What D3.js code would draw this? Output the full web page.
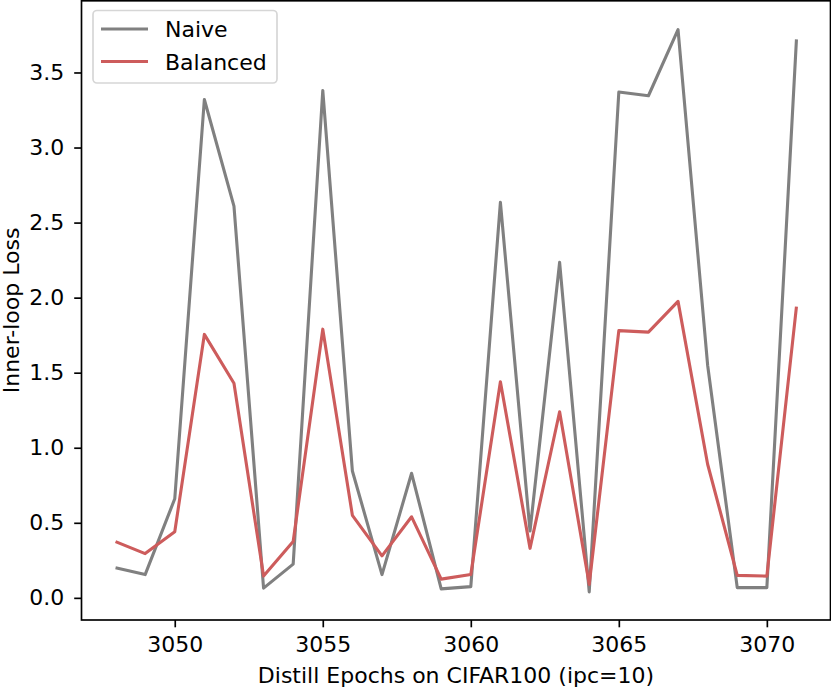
<!DOCTYPE html>
<html lang="en">

<head>
  <meta charset="UTF-8">
  <title>Inner-loop Loss</title>
  <style>
    body { margin: 0; background: #fff; }
    svg { display: block; font-family: "DejaVu Sans", sans-serif; }
  </style>
</head>

<body>
  <svg></svg>
  <script src="https://cdn.jsdelivr.net/npm/d3@7"></script>
  <script>
    // epochs 3048 .. 3071
    var epochs = [3048, 3049, 3050, 3051, 3052, 3053, 3054, 3055, 3056, 3057, 3058, 3059,
      3060, 3061, 3062, 3063, 3064, 3065, 3066, 3067, 3068, 3069, 3070, 3071];
    var naive = [0.20, 0.155, 0.66, 3.32, 2.61, 0.065, 0.225, 3.38, 0.845, 0.155, 0.83, 0.06,
      0.075, 2.635, 0.445, 2.235, 0.04, 3.37, 3.345, 3.785, 1.55, 0.068, 0.068, 3.72];
    var balanced = [0.375, 0.295, 0.44, 1.755, 1.43, 0.145, 0.375, 1.79, 0.55, 0.28, 0.54, 0.125,
      0.155, 1.44, 0.33, 1.24, 0.09, 1.78, 1.77, 1.975, 0.89, 0.15, 0.145, 1.94];
    var xTicks = [3050, 3055, 3060, 3065, 3070];
    var yTicks = [0.0, 0.5, 1.0, 1.5, 2.0, 2.5, 3.0, 3.5];
    var seriesNames = ["Naive", "Balanced"];
    var seriesColors = ["#808080", "#cd5c5c"];

    var width = 831, height = 688;
    var plotL = 81.5, plotR = 830.5, plotT = 0.8, plotB = 620;
    var fontSize = "22px";

    var svg = d3.select("svg")
      .attr("width", width)
      .attr("height", height);

    var x = d3.scaleLinear()
      .domain([3046.85, 3072.15])
      .range([plotL, plotR]);
    var y = d3.scaleLinear()
      .domain([-0.1475, 3.9775])
      .range([plotB, plotT]);

    // 折线
    var line = d3.line()
      .x(function (d, i) { return x(epochs[i]); })
      .y(function (d) { return y(d); });

    [naive, balanced].forEach(function (s, k) {
      svg.append("path")
        .datum(s)
        .attr("fill", "none")
        .attr("stroke", seriesColors[k])
        .attr("stroke-width", 3.1)
        .attr("stroke-linejoin", "round")
        .attr("stroke-linecap", "butt")
        .attr("d", line);
    });

    // 坐标轴
    var xAxis = svg.append("g")
      .attr("transform", `translate(0, ${plotB})`)
      .call(d3.axisBottom(x).tickValues(xTicks).tickFormat(d3.format("d"))
        .tickSize(7.3).tickPadding(9).tickSizeOuter(0));
    var yAxis = svg.append("g")
      .attr("transform", `translate(${plotL}, 0)`)
      .call(d3.axisLeft(y).tickValues(yTicks).tickFormat(d3.format(".1f"))
        .tickSize(7.3).tickPadding(10).tickSizeOuter(0));

    [xAxis, yAxis].forEach(function (g) {
      g.select(".domain").remove();
      g.selectAll(".tick line").attr("stroke", "#000").attr("stroke-width", 1.67);
      g.selectAll(".tick text").attr("fill", "#000").attr("font-size", fontSize)
        .attr("font-family", "DejaVu Sans");
    });

    // 边框
    svg.append("rect")
      .attr("x", plotL)
      .attr("y", plotT)
      .attr("width", plotR - plotL)
      .attr("height", plotB - plotT)
      .attr("fill", "none")
      .attr("stroke", "#000")
      .attr("stroke-width", 1.67);

    // 轴标题
    svg.append("text")
      .attr("x", (plotL + plotR) / 2)
      .attr("y", 683)
      .attr("text-anchor", "middle")
      .attr("font-size", fontSize)
      .text("Distill Epochs on CIFAR100 (ipc=10)");
    svg.append("text")
      .attr("transform", `translate(19, ${(plotT + plotB) / 2}) rotate(-90)`)
      .attr("text-anchor", "middle")
      .attr("font-size", fontSize)
      .text("Inner-loop Loss");

    // 图例
    var legend = svg.append("g").attr("transform", "translate(93, 10.5)");
    legend.append("rect")
      .attr("width", 184)
      .attr("height", 72.5)
      .attr("rx", 4)
      .attr("fill", "#fff")
      .attr("fill-opacity", 0.8)
      .attr("stroke", "#d6d6d6")
      .attr("stroke-width", 1.67);
    seriesNames.forEach(function (name, i) {
      var ly = 18.5 + i * 32.5;
      legend.append("line")
        .attr("x1", 8).attr("x2", 55)
        .attr("y1", ly).attr("y2", ly)
        .attr("stroke", seriesColors[i])
        .attr("stroke-width", 3.1);
      legend.append("text")
        .attr("x", 72)
        .attr("y", ly + 8)
        .attr("font-size", fontSize)
        .text(name);
    });
  </script>
</body>

</html>
